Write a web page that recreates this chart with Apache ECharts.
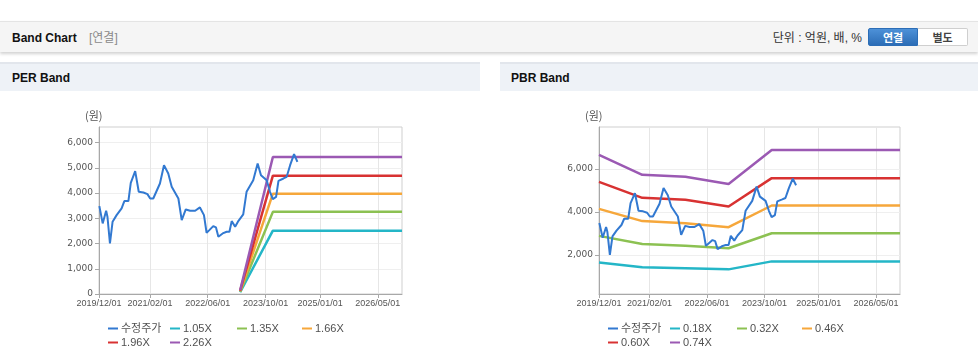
<!DOCTYPE html>
<html><head><meta charset="utf-8">
<script src="https://cdn.jsdelivr.net/npm/echarts@6/dist/echarts.min.js"></script>
<style>
html,body{margin:0;padding:0;background:#fff;width:978px;height:361px;overflow:hidden;font-family:"Liberation Sans",Arial,"Noto Sans CJK KR",sans-serif;}
.abs{position:absolute;}
#topbar{left:0;top:21px;width:978px;height:30px;background:#f5f5f5;border-top:1px solid #e4e4e4;box-shadow:0 2px 3px rgba(0,0,0,0.18);}
.ttl{font-weight:bold;font-size:12px;color:#111;line-height:16px;}
.sub{font-size:12px;color:#8a8a8a;line-height:16px;}
.sec{top:62px;height:27px;background:#eef2f7;border-top:2px solid #e2e6ec;}
.btn{top:28px;height:18px;width:50px;font-size:11px;font-weight:bold;line-height:18px;text-align:center;box-sizing:border-box;}
</style></head>
<body>
<div id="topbar" class="abs"></div>
<div class="abs ttl" style="left:12px;top:30px;">Band Chart</div>
<div class="abs sub" style="left:89px;top:30px;">[연결]</div>
<div class="abs" style="right:116px;top:30px;font-size:12px;color:#333;line-height:16px;">단위 : 억원, 배, %</div>
<div class="abs btn" style="left:868px;background:linear-gradient(#4d91d8,#2c6db6);color:#fff;border:1px solid #2c6db6;border-radius:2px 0 0 2px;">연결</div>
<div class="abs btn" style="left:918px;background:#fff;color:#444;border:1px solid #cfcfcf;border-left:none;border-radius:0 2px 2px 0;">별도</div>
<div class="abs sec" style="left:0;width:480px;"></div>
<div class="abs ttl" style="left:12px;top:70px;">PER Band</div>
<div class="abs sec" style="left:500px;width:478px;"></div>
<div class="abs ttl" style="left:511px;top:70px;">PBR Band</div>
<div id="per" class="abs" style="left:0;top:91px;width:480px;height:270px;"></div>
<div id="pbr" class="abs" style="left:500px;top:91px;width:478px;height:270px;"></div>
<script>
// ---- data ----
const priceName = '수정주가';
const priceDates = ['2019-12-04','2020-01-01','2020-01-30','2020-02-10','2020-03-02','2020-03-24','2020-04-27','2020-06-08','2020-07-01','2020-08-04','2020-08-24','2020-09-30','2020-10-30','2020-12-08','2021-01-11','2021-02-03','2021-03-01','2021-04-26','2021-05-30','2021-07-05','2021-08-03','2021-09-28','2021-10-26','2021-11-29','2022-01-05','2022-02-16','2022-03-28','2022-05-01','2022-05-23','2022-06-15','2022-07-18','2022-08-10','2022-08-30','2022-10-05','2022-11-08','2022-12-01','2022-12-20','2023-01-18','2023-02-15','2023-03-27','2023-04-24','2023-06-19','2023-07-26','2023-08-23','2023-10-10','2023-11-07','2023-11-30','2023-12-28','2024-01-17','2024-02-28','2024-03-26','2024-04-24','2024-05-27','2024-06-24'];
const priceValues = [3482,2796,3297,3060,2005,2862,3126,3390,3680,3680,4405,4867,4050,4023,3957,3785,3785,4379,5105,4775,4247,3785,2928,3350,3297,3297,3430,3126,2427,2532,2690,2638,2269,2400,2466,2466,2888,2664,2901,3152,4050,4511,5171,4709,4511,4050,3759,3851,4485,4577,4643,5105,5540,5237];

const perBandNames = ['1.05X','1.35X','1.66X','1.96X','2.26X'];
const perBandDates = ['2023-03-01','2023-12-01','2026-11-20'];
const per105 = [70, 2510, 2510];
const per135 = [90, 3255, 3255];
const per166 = [110, 3975, 3975];
const per196 = [130, 4690, 4690];
const per226 = [150, 5430, 5430];

const pbrBandNames = ['0.18X','0.32X','0.46X','0.60X','0.74X'];
const pbrBandDates = ['2019-12-01','2020-12-01','2021-12-01','2022-12-01','2023-12-01','2026-11-20'];
const pbr018 = [1650, 1425, 1380, 1330, 1700, 1700];
const pbr032 = [2885, 2505, 2425, 2310, 3005, 3005];
const pbr046 = [4140, 3570, 3475, 3290, 4295, 4295];
const pbr060 = [5395, 4650, 4560, 4250, 5566, 5566];
const pbr074 = [6651, 5721, 5630, 5290, 6870, 6870];

const xTickDates = ['2019-12-01','2021-02-01','2022-06-01','2023-10-01','2025-01-01','2026-05-01'];
const xStart = '2019-12-01', xEnd = '2026-11-20';
const perYTicks = [0,1000,2000,3000,4000,5000,6000];
const perYRange = [0, 6617];
const pbrYTicks = [2000,4000,6000];
const pbrYRange = [186, 7940];
const yUnit = '(원)';

// ---- styles ----
const priceColor = '#3279d1';
const bandColors = ['#24b6c7','#8cc152','#f6a73b','#d83232','#9b59b3'];
const legendPos = [[108,232],[170,232],[237,232],[302,232],[108,246],[170,246]];

function ts(s){const p=s.split('-').map(Number);return new Date(p[0],p[1]-1,p[2]).getTime();}
function pad(n){return (n<10?'0':'')+n;}
function fmtDate(v){const d=new Date(v);return d.getFullYear()+'/'+pad(d.getMonth()+1)+'/'+pad(d.getDate());}

function build(bandNames, bandDates, bandSeries, yTicks, yRange){
  const series = [];
  bandNames.forEach((n,i)=>{
    series.push({name:n,type:'line',symbol:'none',silent:true,
      lineStyle:{width:2.5,color:bandColors[i]},itemStyle:{color:bandColors[i]},
      data:bandDates.map((d,j)=>[ts(d),bandSeries[i][j]]),z:2});
  });
  series.unshift({name:priceName,type:'line',symbol:'none',silent:true,
    lineStyle:{width:2,color:priceColor},itemStyle:{color:priceColor},
    data:priceDates.map((d,j)=>[ts(d),priceValues[j]]),z:3});
  const names=[priceName].concat(bandNames);
  const legends = names.map((n,i)=>({
    data:[n],left:legendPos[i][0],top:legendPos[i][1],padding:0,
    icon:'rect',itemWidth:10,itemHeight:2,selectedMode:false,
    textStyle:{fontSize:11,color:'#505050',fontFamily:'"Liberation Sans",Arial,"Noto Sans CJK KR",sans-serif',padding:[0,0,0,-2]}
  }));
  const xt = xTickDates.map(ts);
  return {
    animation:false,
    grid:{left:99,right:78,top:36,bottom:67,show:true,borderColor:'#cfcfcf',borderWidth:1,containLabel:false},
    legend:legends,
    graphic:[{type:'text',left:85,top:19,style:{text:yUnit,fontSize:11,fill:'#555',fontFamily:'"Noto Sans CJK KR",sans-serif'}}],
    xAxis:{type:'value',min:ts(xStart),max:ts(xEnd),scale:true,
      axisLine:{lineStyle:{color:'#a8a8a8'}},
      axisTick:{show:true,length:4,lineStyle:{color:'#a8a8a8'},customValues:xt},
      axisLabel:{customValues:xt,formatter:fmtDate,fontSize:9,color:'#555',margin:5,
        showMinLabel:true,showMaxLabel:true,
        fontFamily:'"Liberation Sans",Arial,sans-serif'},
      splitLine:{show:true,lineStyle:{color:'#e6e6e6'}}},
    yAxis:{type:'value',min:yRange[0],max:yRange[1],
      axisLine:{show:true,lineStyle:{color:'#a8a8a8'}},
      axisTick:{show:true,length:4,lineStyle:{color:'#a8a8a8'},customValues:yTicks},
      axisLabel:{customValues:yTicks,fontSize:9,color:'#555',margin:6,fontFamily:'"DejaVu Sans",sans-serif',
        formatter:v=>Number(v).toLocaleString('en-US')},
      splitLine:{show:true,lineStyle:{color:'#efefef'}}},
    series:series
  };
}
const perChart = echarts.init(document.getElementById('per'),null,{renderer:'canvas'});
perChart.setOption(build(perBandNames, perBandDates, [per105,per135,per166,per196,per226], perYTicks, perYRange));
const pbrChart = echarts.init(document.getElementById('pbr'),null,{renderer:'canvas'});
pbrChart.setOption(build(pbrBandNames, pbrBandDates, [pbr018,pbr032,pbr046,pbr060,pbr074], pbrYTicks, pbrYRange));
</script>
</body></html>
